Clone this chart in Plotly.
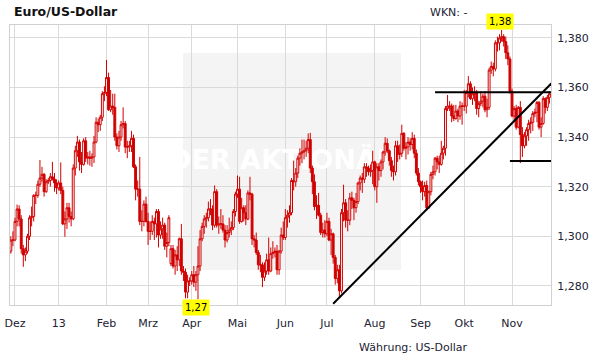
import numpy as np
import pandas as pd
import plotly.graph_objects as go

# ---------------- data (EUR/USD daily, 29.11.2012 - 27.11.2013) ----------------
start_date = "2012-11-29"
end_date = "2013-11-27"

open_ = [
    1.2940, 1.2985,
    1.2985, 1.3060, 1.3110, 1.3070, 1.2950, 1.2925, 1.2940, 1.3000, 1.3075, 1.3080, 1.3165, 1.3165, 1.3210, 1.3235, 1.3250, 1.3180, 1.3220, 1.3225, 1.3240, 1.3230, 1.3215,
    1.3195, 1.3215, 1.3185, 1.3050, 1.3070, 1.3115, 1.3080, 1.3070, 1.3275, 1.3345, 1.3380, 1.3300, 1.3290, 1.3385, 1.3315, 1.3320, 1.3315, 1.3320, 1.3380, 1.3460, 1.3450, 1.3480, 1.3575,
    1.3580, 1.3640, 1.3510, 1.3525, 1.3520, 1.3400, 1.3365, 1.3400, 1.3450, 1.3455, 1.3360, 1.3360, 1.3365, 1.3395, 1.3280, 1.3190, 1.3190, 1.3060, 1.3060, 1.3130,
    1.3060, 1.3020, 1.3020, 1.3060, 1.3050, 1.3100, 1.3005, 1.3030, 1.3045, 1.2960, 1.2975, 1.2890, 1.2950, 1.2880, 1.2925, 1.2905, 1.2990, 1.2860, 1.2855, 1.2775, 1.2820,
    1.2820, 1.2845, 1.2815, 1.2845, 1.2880, 1.2990, 1.3040, 1.3070, 1.3075, 1.3110, 1.3110, 1.3045, 1.3180, 1.3045, 1.3050, 1.3050, 1.3025, 1.2985, 1.3015, 1.3025, 1.3035, 1.3100,
    1.3170, 1.3190, 1.3060, 1.3115, 1.3095, 1.3070, 1.3175, 1.3170, 1.2990, 1.2985, 1.2935, 1.2885, 1.2885, 1.2835, 1.2860, 1.2905, 1.2860, 1.2930, 1.2935, 1.2940, 1.2865, 1.2940, 1.3005,
    1.2995, 1.3075, 1.3085, 1.3095, 1.3225, 1.3220, 1.3255, 1.3315, 1.3335, 1.3340, 1.3345, 1.3355, 1.3390, 1.3275, 1.3220, 1.3120, 1.3125, 1.3085, 1.3015, 1.3025,
    1.3010, 1.3060, 1.2985, 1.3010, 1.2915, 1.2830, 1.2865, 1.2780, 1.3095, 1.3135, 1.3065, 1.3065, 1.3155, 1.3145, 1.3115, 1.3140, 1.3215, 1.3235, 1.3230, 1.3280, 1.3275, 1.3260, 1.3265,
    1.3300, 1.3200, 1.3280, 1.3265, 1.3300, 1.3340, 1.3375, 1.3345, 1.3305, 1.3265, 1.3260, 1.3365, 1.3330, 1.3335, 1.3415, 1.3355, 1.3360, 1.3380, 1.3370, 1.3395, 1.3335, 1.3255,
    1.3220, 1.3200, 1.3180, 1.3205, 1.3115, 1.3180, 1.3250, 1.3260, 1.3315, 1.3300, 1.3290, 1.3335, 1.3355, 1.3515, 1.3525, 1.3525, 1.3485, 1.3475, 1.3505, 1.3485, 1.3525,
    1.3525, 1.3525, 1.3580, 1.3615, 1.3555, 1.3575, 1.3580, 1.3515, 1.3535, 1.3545, 1.3565, 1.3510, 1.3520, 1.3670, 1.3685, 1.3675, 1.3780, 1.3780, 1.3800, 1.3805, 1.3785, 1.3740, 1.3715,
    1.3585, 1.3485, 1.3515, 1.3440, 1.3520, 1.3410, 1.3365, 1.3405, 1.3430, 1.3455, 1.3460, 1.3495, 1.3500, 1.3540, 1.3440, 1.3455, 1.3555, 1.3520, 1.3560,
]

high = [
    1.3000, 1.3020,
    1.3075, 1.3128, 1.3125, 1.3085, 1.2965, 1.2955, 1.3010, 1.3085, 1.3120, 1.3170, 1.3180, 1.3225, 1.3308, 1.3280, 1.3255, 1.3230, 1.3235, 1.3255, 1.3300, 1.3255, 1.3230,
    1.3225, 1.3298, 1.3200, 1.3100, 1.3135, 1.3135, 1.3100, 1.3290, 1.3365, 1.3405, 1.3390, 1.3340, 1.3395, 1.3400, 1.3340, 1.3345, 1.3335, 1.3405, 1.3480, 1.3475, 1.3490, 1.3585, 1.3605,
    1.3711, 1.3660, 1.3590, 1.3575, 1.3575, 1.3415, 1.3425, 1.3465, 1.3520, 1.3465, 1.3385, 1.3385, 1.3425, 1.3410, 1.3290, 1.3225, 1.3320, 1.3105, 1.3145, 1.3160,
    1.3095, 1.3060, 1.3085, 1.3075, 1.3110, 1.3110, 1.3060, 1.3075, 1.3055, 1.3015, 1.3085, 1.2965, 1.2965, 1.2945, 1.2960, 1.2995, 1.3050, 1.2880, 1.2870, 1.2845, 1.2835,
    1.2860, 1.2880, 1.2860, 1.2960, 1.3025, 1.3055, 1.3085, 1.3095, 1.3140, 1.3150, 1.3125, 1.3205, 1.3190, 1.3080, 1.3110, 1.3085, 1.3045, 1.3045, 1.3075, 1.3060, 1.3110, 1.3180,
    1.3245, 1.3240, 1.3155, 1.3125, 1.3125, 1.3185, 1.3240, 1.3175, 1.3005, 1.3015, 1.2945, 1.2925, 1.2895, 1.2895, 1.2930, 1.2995, 1.2955, 1.2980, 1.2955, 1.2965, 1.2945, 1.3035, 1.3060,
    1.3110, 1.3105, 1.3125, 1.3235, 1.3305, 1.3275, 1.3325, 1.3355, 1.3390, 1.3390, 1.3385, 1.3415, 1.3417, 1.3285, 1.3250, 1.3165, 1.3175, 1.3095, 1.3055, 1.3065,
    1.3095, 1.3075, 1.3030, 1.3015, 1.2925, 1.2885, 1.2885, 1.3110, 1.3208, 1.3150, 1.3105, 1.3175, 1.3180, 1.3155, 1.3175, 1.3220, 1.3245, 1.3255, 1.3295, 1.3295, 1.3285, 1.3290, 1.3345,
    1.3305, 1.3295, 1.3295, 1.3310, 1.3345, 1.3400, 1.3395, 1.3350, 1.3320, 1.3285, 1.3385, 1.3385, 1.3370, 1.3450, 1.3420, 1.3380, 1.3400, 1.3395, 1.3420, 1.3410, 1.3350, 1.3275,
    1.3225, 1.3225, 1.3220, 1.3225, 1.3185, 1.3260, 1.3285, 1.3320, 1.3325, 1.3325, 1.3385, 1.3365, 1.3525, 1.3570, 1.3545, 1.3535, 1.3530, 1.3530, 1.3515, 1.3545, 1.3540,
    1.3590, 1.3590, 1.3646, 1.3625, 1.3600, 1.3605, 1.3590, 1.3545, 1.3585, 1.3575, 1.3585, 1.3555, 1.3680, 1.3705, 1.3700, 1.3790, 1.3805, 1.3815, 1.3832, 1.3815, 1.3805, 1.3770, 1.3725,
    1.3595, 1.3525, 1.3530, 1.3525, 1.3545, 1.3440, 1.3420, 1.3440, 1.3470, 1.3480, 1.3505, 1.3515, 1.3545, 1.3545, 1.3480, 1.3565, 1.3560, 1.3570, 1.3585,
]

low = [
    1.2930, 1.2960,
    1.2980, 1.3040, 1.3040, 1.2930, 1.2877, 1.2900, 1.2930, 1.2985, 1.3040, 1.3060, 1.3130, 1.3155, 1.3200, 1.3220, 1.3160, 1.3175, 1.3210, 1.3200, 1.3225, 1.3180, 1.3170,
    1.3185, 1.3170, 1.3045, 1.2998, 1.3030, 1.3055, 1.3040, 1.3065, 1.3245, 1.3320, 1.3265, 1.3255, 1.3285, 1.3300, 1.3290, 1.3285, 1.3280, 1.3295, 1.3375, 1.3420, 1.3425, 1.3465, 1.3545,
    1.3565, 1.3505, 1.3500, 1.3490, 1.3385, 1.3350, 1.3340, 1.3385, 1.3435, 1.3335, 1.3315, 1.3340, 1.3340, 1.3275, 1.3145, 1.3160, 1.3045, 1.3020, 1.3040, 1.3055,
    1.2965, 1.2985, 1.3005, 1.2985, 1.2995, 1.2955, 1.2990, 1.2990, 1.2945, 1.2915, 1.2960, 1.2880, 1.2870, 1.2845, 1.2860, 1.2880, 1.2845, 1.2820, 1.2750, 1.2750, 1.2800,
    1.2805, 1.2795, 1.2780, 1.2746, 1.2860, 1.2980, 1.3010, 1.3035, 1.3060, 1.3085, 1.3025, 1.3035, 1.3035, 1.3010, 1.3030, 1.3015, 1.2955, 1.2975, 1.2995, 1.3005, 1.3025, 1.3080,
    1.3155, 1.3050, 1.3055, 1.3060, 1.3045, 1.3065, 1.3145, 1.2965, 1.2955, 1.2925, 1.2865, 1.2855, 1.2795, 1.2820, 1.2845, 1.2845, 1.2855, 1.2910, 1.2915, 1.2845, 1.2845, 1.2930, 1.2985,
    1.2985, 1.3035, 1.3055, 1.3085, 1.3185, 1.3200, 1.3235, 1.3285, 1.3295, 1.3310, 1.3320, 1.3335, 1.3255, 1.3170, 1.3105, 1.3070, 1.3080, 1.3005, 1.2995, 1.2995,
    1.3000, 1.2980, 1.2925, 1.2890, 1.2805, 1.2810, 1.2755, 1.2770, 1.3060, 1.3035, 1.3020, 1.3045, 1.3110, 1.3065, 1.3095, 1.3130, 1.3185, 1.3175, 1.3215, 1.3240, 1.3245, 1.3240, 1.3210,
    1.3185, 1.3135, 1.3225, 1.3240, 1.3270, 1.3325, 1.3335, 1.3285, 1.3240, 1.3225, 1.3245, 1.3300, 1.3310, 1.3320, 1.3345, 1.3310, 1.3330, 1.3345, 1.3350, 1.3315, 1.3245, 1.3205,
    1.3175, 1.3145, 1.3160, 1.3105, 1.3110, 1.3165, 1.3230, 1.3245, 1.3270, 1.3255, 1.3285, 1.3310, 1.3325, 1.3505, 1.3505, 1.3460, 1.3465, 1.3470, 1.3460, 1.3470, 1.3450,
    1.3505, 1.3495, 1.3560, 1.3550, 1.3530, 1.3545, 1.3490, 1.3480, 1.3525, 1.3520, 1.3500, 1.3480, 1.3510, 1.3655, 1.3645, 1.3665, 1.3745, 1.3750, 1.3785, 1.3765, 1.3715, 1.3690, 1.3575,
    1.3480, 1.3465, 1.3430, 1.3435, 1.3295, 1.3320, 1.3355, 1.3365, 1.3385, 1.3415, 1.3425, 1.3480, 1.3460, 1.3430, 1.3400, 1.3450, 1.3495, 1.3505, 1.3535,
]

close = [
    1.2985, 1.2985,
    1.3060, 1.3110, 1.3070, 1.2950, 1.2925, 1.2940, 1.3000, 1.3075, 1.3080, 1.3165, 1.3165, 1.3210, 1.3235, 1.3250, 1.3180, 1.3220, 1.3225, 1.3240, 1.3230, 1.3215, 1.3195,
    1.3215, 1.3185, 1.3050, 1.3070, 1.3115, 1.3080, 1.3070, 1.3275, 1.3345, 1.3380, 1.3300, 1.3290, 1.3385, 1.3315, 1.3320, 1.3315, 1.3320, 1.3380, 1.3460, 1.3450, 1.3480, 1.3575, 1.3580,
    1.3640, 1.3510, 1.3525, 1.3520, 1.3400, 1.3365, 1.3400, 1.3450, 1.3455, 1.3360, 1.3360, 1.3365, 1.3395, 1.3280, 1.3190, 1.3190, 1.3060, 1.3060, 1.3130, 1.3060,
    1.3020, 1.3020, 1.3060, 1.3050, 1.3100, 1.3005, 1.3030, 1.3045, 1.2960, 1.2975, 1.3075, 1.2950, 1.2880, 1.2925, 1.2905, 1.2990, 1.2860, 1.2855, 1.2775, 1.2820, 1.2820,
    1.2845, 1.2815, 1.2845, 1.2880, 1.2990, 1.3040, 1.3070, 1.3075, 1.3110, 1.3110, 1.3045, 1.3180, 1.3045, 1.3050, 1.3050, 1.3025, 1.2985, 1.3015, 1.3025, 1.3035, 1.3100, 1.3170,
    1.3190, 1.3060, 1.3115, 1.3095, 1.3070, 1.3175, 1.3170, 1.2990, 1.2985, 1.2935, 1.2885, 1.2885, 1.2835, 1.2860, 1.2905, 1.2860, 1.2930, 1.2935, 1.2940, 1.2865, 1.2940, 1.3005, 1.2995,
    1.3075, 1.3085, 1.3095, 1.3225, 1.3220, 1.3255, 1.3315, 1.3335, 1.3340, 1.3345, 1.3355, 1.3390, 1.3275, 1.3220, 1.3120, 1.3125, 1.3085, 1.3015, 1.3025, 1.3010,
    1.3060, 1.2985, 1.3010, 1.2915, 1.2830, 1.2865, 1.2780, 1.3095, 1.3135, 1.3065, 1.3065, 1.3155, 1.3145, 1.3115, 1.3140, 1.3215, 1.3235, 1.3230, 1.3280, 1.3275, 1.3260, 1.3265, 1.3300,
    1.3200, 1.3280, 1.3265, 1.3300, 1.3340, 1.3375, 1.3345, 1.3305, 1.3265, 1.3260, 1.3365, 1.3330, 1.3335, 1.3415, 1.3355, 1.3360, 1.3380, 1.3370, 1.3395, 1.3335, 1.3255, 1.3220,
    1.3200, 1.3180, 1.3205, 1.3115, 1.3180, 1.3250, 1.3260, 1.3315, 1.3300, 1.3290, 1.3335, 1.3355, 1.3515, 1.3525, 1.3525, 1.3485, 1.3475, 1.3505, 1.3485, 1.3525, 1.3525,
    1.3525, 1.3580, 1.3615, 1.3555, 1.3575, 1.3580, 1.3515, 1.3535, 1.3545, 1.3565, 1.3510, 1.3520, 1.3670, 1.3685, 1.3675, 1.3780, 1.3780, 1.3800, 1.3805, 1.3785, 1.3740, 1.3715, 1.3585,
    1.3485, 1.3515, 1.3440, 1.3520, 1.3410, 1.3365, 1.3405, 1.3430, 1.3455, 1.3460, 1.3495, 1.3500, 1.3540, 1.3440, 1.3455, 1.3555, 1.3520, 1.3560, 1.3575,
]

# month ticks (first trading day of each month)
month_starts = ["2012-12-03", "2013-01-01", "2013-02-01", "2013-03-01", "2013-04-01", "2013-05-01",
                "2013-06-03", "2013-07-01", "2013-08-01", "2013-09-02", "2013-10-01", "2013-11-01"]
month_labels = ["Dez", "13", "Feb", "Mrz", "Apr", "Mai", "Jun", "Jul", "Aug", "Sep", "Okt", "Nov"]

y_ticks = [1.28, 1.30, 1.32, 1.34, 1.36, 1.38]
y_tick_labels = ["1,280", "1,300", "1,320", "1,340", "1,360", "1,380"]

# drawn trend / support lines (dates, prices)
trend_dates = ["2013-07-04", "2013-11-28"]
trend_prices = [1.2728, 1.3617]
resist_dates = ["2013-09-11", "2013-11-28"]
resist_prices = [1.3581, 1.3581]
support_dates = ["2013-10-31", "2013-11-28"]
support_prices = [1.3304, 1.3304]

x_range_dates = ["2012-11-29", "2013-11-28"]
y_range = [1.2723, 1.3852]

# ---------------- figure ----------------
dates = pd.bdate_range(start_date, end_date)
n = min(len(dates), len(open_), len(high), len(low), len(close))


def pos(d):
    return float(np.busday_count(start_date, d))


xpos = np.arange(n)
RED = "#d00000"
TXT = "#222233"
FONT = "DejaVu Sans"

W, H = 611, 364
ml, mt = 10, 25
mr, mb = W - 551, H - 305
pw, ph = W - ml - mr, H - mt - mb


def px(xs):
    return (xs - ml) / pw


def py(ys):
    return (H - mb - ys) / ph


fig = go.Figure()

# watermark text on the base axis (below the candles which live on the overlay axis)
fig.add_trace(go.Scatter(
    x=[(pos(month_starts[4]) + pos(month_starts[8])) / 2], y=[(y_range[0] + y_range[1]) / 2 + 0.001],
    mode="text", text=["DER AKTIONÄR"],
    textfont=dict(family=FONT, size=27, color="white", weight="bold"),
    hoverinfo="skip", showlegend=False, xaxis="x", yaxis="y"))

fig.add_trace(go.Candlestick(
    x=xpos, open=open_[:n], high=high[:n], low=low[:n], close=close[:n],
    increasing=dict(line=dict(color=RED, width=1), fillcolor="white"),
    decreasing=dict(line=dict(color=RED, width=1), fillcolor=RED),
    whiskerwidth=0, showlegend=False, hoverinfo="skip", xaxis="x", yaxis="y2"))

for dd, pp in [(trend_dates, trend_prices), (resist_dates, resist_prices), (support_dates, support_prices)]:
    fig.add_trace(go.Scatter(
        x=[pos(d) for d in dd], y=pp, mode="lines",
        line=dict(color="black", width=2), hoverinfo="skip", showlegend=False,
        xaxis="x", yaxis="y2"))

# yellow extreme labels
hi_i = int(np.argmax(high[:n]))
lo_i = int(np.argmin(low[:n]))
for i, val, anchor in [(hi_i, high[hi_i], "bottom"), (lo_i, low[lo_i], "top")]:
    fig.add_annotation(x=i, y=val, xref="x", yref="y",
                       text=f"{val:.2f}".replace(".", ","), showarrow=False,
                       xanchor="center", yanchor=anchor, xshift=-2,
                       bgcolor="#ffff00", borderpad=2,
                       font=dict(family=FONT, size=10, color="black"))

fig.add_annotation(x=px(12), y=py(12), xref="paper", yref="paper", text="<b>Euro/US-Dollar</b>",
                   showarrow=False, xanchor="left", yanchor="middle",
                   font=dict(family=FONT, size=12.5, color="#111111"))
fig.add_annotation(x=px(428), y=py(13), xref="paper", yref="paper", text="WKN: -",
                   showarrow=False, xanchor="left", yanchor="middle",
                   font=dict(family=FONT, size=11, color=TXT))
fig.add_annotation(x=px(357), y=py(347), xref="paper", yref="paper", text="Währung: US-Dollar",
                   showarrow=False, xanchor="left", yanchor="middle",
                   font=dict(family=FONT, size=11, color=TXT))

# light watermark box
fig.add_shape(type="rect", xref="paper", yref="paper",
              x0=px(183), x1=px(401), y0=py(270), y1=py(53),
              fillcolor="#f4f4f4", line=dict(width=0), layer="below")

xr = [pos(x_range_dates[0]) - 0.4, pos(x_range_dates[1]) - 0.25]

fig.update_layout(
    width=W, height=H,
    margin=dict(l=ml, r=mr, t=mt, b=mb, pad=0),
    paper_bgcolor="white", plot_bgcolor="rgba(0,0,0,0)",
    separators=",.",
    font=dict(family=FONT, size=11, color=TXT),
    showlegend=False,
    boxgap=0.1, boxgroupgap=0,
    xaxis=dict(range=xr, tickmode="array",
               tickvals=[pos(d) for d in month_starts], ticktext=month_labels,
               showgrid=True, gridcolor="#dadada", gridwidth=1,
               showline=True, mirror=True, linecolor="#d0d0d0", linewidth=1,
               zeroline=False, ticks="", ticklabelstandoff=8, ticklabeloverflow="allow",
               tickfont=dict(family=FONT, size=11, color=TXT),
               rangeslider=dict(visible=False), fixedrange=True, automargin=False),
    yaxis=dict(range=y_range, side="right", tickmode="array",
               tickvals=y_ticks, ticktext=y_tick_labels,
               showgrid=True, gridcolor="#dadada", gridwidth=1,
               showline=True, mirror=True, linecolor="#d0d0d0", linewidth=1,
               zeroline=False, ticks="", ticklabelstandoff=3,
               tickfont=dict(family=FONT, size=11, color=TXT), fixedrange=True,
               automargin=False),
    yaxis2=dict(range=y_range, overlaying="y", side="right", visible=False,
                showgrid=False, zeroline=False, fixedrange=True),
)

fig.write_html("out.html", config={"displayModeBar": False, "staticPlot": True},
               post_script="document.body.style.margin='0px';document.body.style.overflow='hidden';")
